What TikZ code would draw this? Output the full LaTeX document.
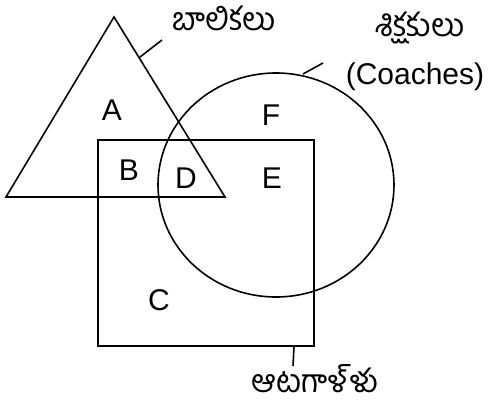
\documentclass[tikz,border=0pt]{standalone}
\usepackage{fontspec}
\setmainfont{Liberation Sans}
\newfontfamily\telugufont[Script=Telugu]{Hind Guntur}
\usepackage{tikz}
\usetikzlibrary{positioning}

\tikzset{
  venn/.style={black, line width=1.6pt},
  region/.style={inner sep=0pt, font=\fontsize{30}{32}\selectfont},
  setname/.style={inner sep=0pt, anchor=base, text height=18pt, text depth=2pt,
    font=\fontsize{32}{34}\selectfont\telugufont},
}

\begin{document}
\begin{tikzpicture}[x=1pt,y=-1pt]
  \path[use as bounding box] (0,0) rectangle (491,408);
  % the three sets
  \draw[venn] (114,17) -- (6,197) -- (225,197) -- cycle;
  \draw[venn] (98,140) rectangle (314,346);
  \draw[venn] (276,185) ellipse [x radius=118, y radius=112];
  % regions
  \node[region] (A) at (112,110) {A};
  \node[region] (B) at (129,170) {B};
  \node[region] (D) at (186,178) {D};
  \node[region] (E) at (272,178) {E};
  \node[region] (F) at (271,115) {F};
  \node[region] (C) at (159,300) {C};
  % set names
  \node[setname] (girls) at (224,30) {బాలికలు};
  \node[setname] (coaches) at (420,36) {శిక్షకులు};
  \node[region, anchor=base] (coachesen) at (415,84) {(Coaches)};
  \node[setname] (players) at (315,392) {ఆటగాళ్ళు};
  \coordinate (tri) at (140,57);
  \coordinate (girlsend) at (162,40);
  \coordinate (circ) at (303,74);
  \coordinate (coachesend) at (323,63);
  \coordinate (sq) at (294,347);
  \coordinate (playersend) at (293,366);
  \draw[venn] (tri) -- (girlsend);
  \draw[venn] (circ) -- (coachesend);
  \draw[venn] (sq) -- (playersend);
\end{tikzpicture}
\end{document}
